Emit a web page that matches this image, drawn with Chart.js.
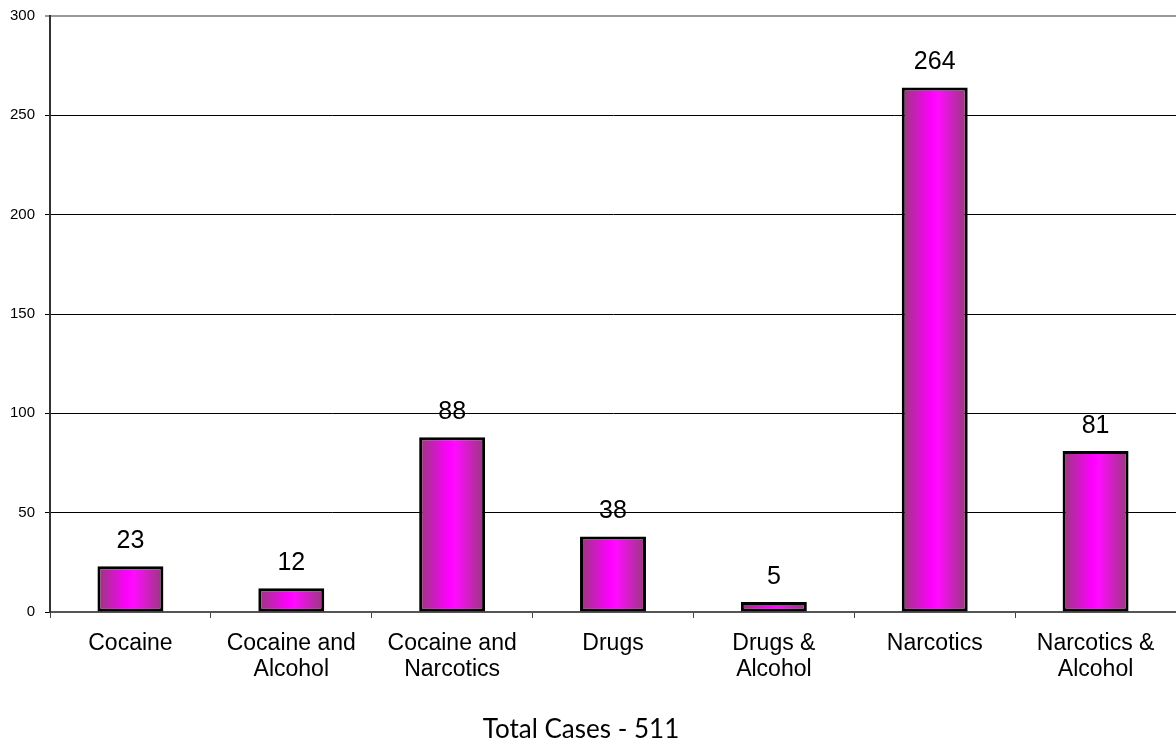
<!DOCTYPE html>
<html>
<head>
<meta charset="utf-8">
<script src="https://cdn.jsdelivr.net/npm/chart.js@4/dist/chart.umd.min.js"></script>
<style>
  html, body { margin: 0; padding: 0; background: #fff; }
  #wrap { width: 1176px; height: 744px; }
</style>
</head>
<body>
<div id="wrap"><canvas id="casesChart"></canvas></div>
<script>
const categories = [
  "Cocaine",
  ["Cocaine and", "Alcohol"],
  ["Cocaine and", "Narcotics"],
  "Drugs",
  ["Drugs &", "Alcohol"],
  "Narcotics",
  ["Narcotics &", "Alcohol"]
];
const caseCounts = [23, 12, 88, 38, 5, 264, 81];
const yTicks = [0, 50, 100, 150, 200, 250, 300];
const titleText = "Total Cases - 511";

const BAR_PCT = 0.41;

// horizontal gradient per bar, dark edges and bright magenta middle
function barGradient(ctx) {
  const chart = ctx.chart;
  const x = chart.scales.x;
  if (!chart.chartArea || !x) return "#ff00ff";
  const center = x.getPixelForValue(ctx.dataIndex);
  const half = (x.width / categories.length) * BAR_PCT / 2;
  const g = chart.ctx.createLinearGradient(center - half, 0, center + half, 0);
  g.addColorStop(0, "#953a78");
  g.addColorStop(0.45, "#ff00ff");
  g.addColorStop(0.55, "#ff0cff");
  g.addColorStop(1, "#953a78");
  return g;
}

const valueLabels = {
  id: "valueLabels",
  afterDatasetsDraw(chart) {
    const ctx = chart.ctx;
    const meta = chart.getDatasetMeta(0);
    ctx.save();
    ctx.font = "25px 'Liberation Sans', Arial, sans-serif";
    ctx.fillStyle = "#000";
    ctx.textAlign = "center";
    ctx.textBaseline = "middle";
    meta.data.forEach((bar, i) => {
      ctx.fillText(String(caseCounts[i]), bar.x, bar.y - 25);
    });
    ctx.restore();
  }
};

// caption under the axis
const bottomTitle = {
  id: "bottomTitle",
  afterDraw(chart) {
    const ctx = chart.ctx;
    ctx.save();
    ctx.font = "26px Lato, 'Open Sans', sans-serif";
    ctx.fillStyle = "#000";
    ctx.textAlign = "center";
    ctx.textBaseline = "alphabetic";
    ctx.fillText(titleText, 581, 738);
    ctx.restore();
  }
};

new Chart(document.getElementById("casesChart"), {
  type: "bar",
  data: {
    labels: categories,
    datasets: [{
      data: caseCounts,
      backgroundColor: barGradient,
      borderColor: "#000",
      borderWidth: 3,
      borderSkipped: false,
      barPercentage: 1,
      categoryPercentage: BAR_PCT
    }]
  },
  options: {
    responsive: true,
    maintainAspectRatio: false,
    animation: false,
    layout: { padding: { top: 0, right: 0, left: 0, bottom: 40 } },
    plugins: {
      legend: { display: false },
      tooltip: { enabled: false },
      title: { display: false }
    },
    scales: {
      x: {
        offset: true,
        grid: { offset: true, drawOnChartArea: false, drawTicks: true, tickLength: 6, color: "#444", lineWidth: 1 },
        border: { color: "#555", width: 2 },
        ticks: {
          color: "#000",
          maxRotation: 0,
          autoSkip: false,
          padding: 12,
          font: { family: "'Liberation Sans', Arial, sans-serif", size: 23, lineHeight: 1.15 }
        },
        afterFit(scale) { scale.height = 92; }
      },
      y: {
        min: 0,
        max: 300,
        afterBuildTicks(scale) { scale.ticks = yTicks.map(v => ({ value: v })); },
        grid: {
          color: c => (c.tick && c.tick.value === 300 ? "#999" : "#000"),
          lineWidth: c => (c.tick && c.tick.value === 300 ? 2 : 1),
          tickLength: 5,
          drawTicks: true
        },
        border: { color: "#333", width: 2 },
        ticks: {
          color: "#000",
          padding: 10,
          font: { family: "'Liberation Sans', Arial, sans-serif", size: 15, lineHeight: 0.8 }
        },
        afterFit(scale) { scale.width = 50; }
      }
    }
  },
  plugins: [valueLabels, bottomTitle]
});
</script>
</body>
</html>
